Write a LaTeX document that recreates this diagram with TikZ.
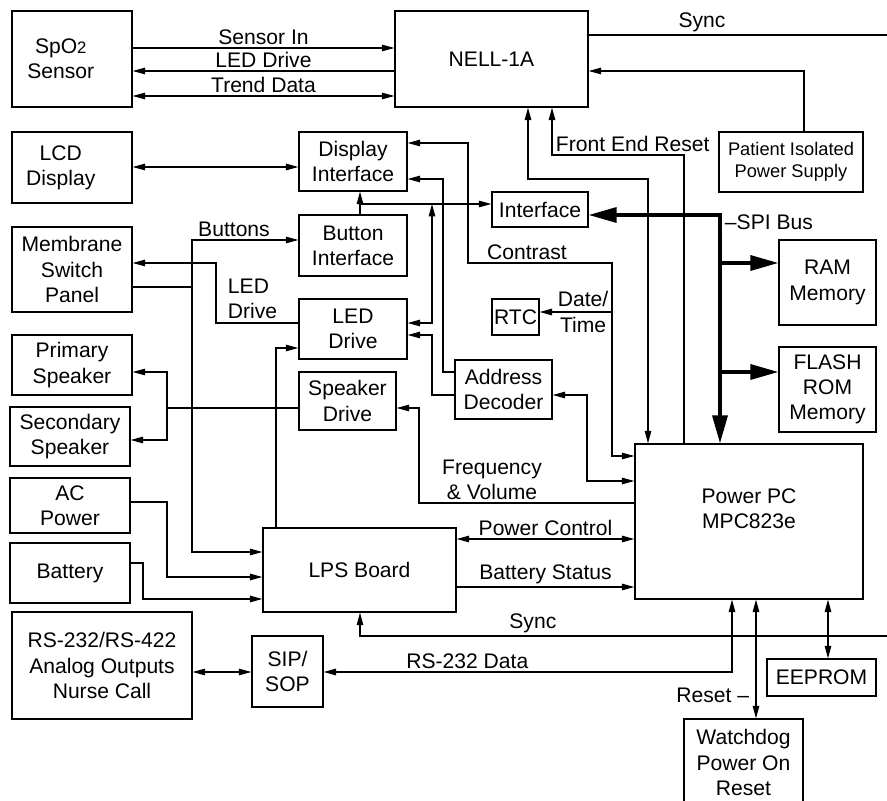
\documentclass[tikz,border=0pt]{standalone}
\usepackage{fontspec}
\setmainfont{Liberation Sans}
\usetikzlibrary{arrows.meta}
\newcommand{\smallfs}{\fontsize{10.4}{12.4}\selectfont}

\begin{document}
\begin{tikzpicture}[x=0.2mm, y=-0.2mm, font=\fontsize{12}{14.3}\selectfont,
    blk/.style={draw, line width=0.7pt, align=center, inner sep=0pt},
    wire/.style={line width=0.7pt},
    arr/.style={wire, -{Triangle[length=2.5mm, width=1.3mm]}},
    dbl/.style={wire, {Triangle[length=2.5mm, width=1.3mm]}-{Triangle[length=2.5mm, width=1.3mm]}},
    bus/.style={line width=1.9pt},
    busarr/.style={bus, -{Triangle[length=5.6mm, width=3mm]}},
    busdbl/.style={bus, {Triangle[length=5.6mm, width=3mm]}-{Triangle[length=5.6mm, width=3mm]}},
    lbl/.style={inner sep=1.5pt}]
  \clip (0,0) rectangle (887,801);
  % left column
  \node[blk, minimum width=24mm, minimum height=19.2mm] (spo2) at (72,59) {SpO{\fontsize{9.5}{9.5}\selectfont 2}\hspace*{4.5mm}\\Sensor\hspace*{4.5mm}};
  \node[blk, minimum width=24mm, minimum height=14.2mm] (lcd) at (72,167.5) {LCD\hspace*{4.5mm}\\Display\hspace*{4.5mm}};
  \node[blk, minimum width=24mm, minimum height=17mm] (membrane) at (72,269.5) {Membrane\\Switch\\Panel};
  \node[blk, minimum width=24mm, minimum height=12mm] (primary) at (72,365) {Primary\\Speaker};
  \node[blk, minimum width=24mm, minimum height=11.8mm] (secondary) at (70,436.5) {Secondary\\Speaker};
  \node[blk, minimum width=24mm, minimum height=11mm] (acpower) at (70,505.5) {AC\\Power};
  \node[blk, minimum width=24mm, minimum height=12mm] (battery) at (70,573) {Battery};
  \node[blk, minimum width=36mm, minimum height=21.4mm] (rs) at (102,665.5) {RS-232/RS-422\\Analog Outputs\\Nurse Call};
  % middle
  \node[blk, minimum width=38.6mm, minimum height=19.2mm] (nell) at (491.5,59) {NELL-1A};
  \node[blk, minimum width=21.6mm, minimum height=11.8mm] (dispif) at (353,161.5) {Display\\Interface};
  \node[blk, minimum width=21.6mm, minimum height=12.2mm] (btnif) at (353,245.5) {Button\\Interface};
  \node[blk, minimum width=21.6mm, minimum height=12mm] (leddrv) at (353,329) {LED\\Drive};
  \node[blk, minimum width=19.4mm, minimum height=11.6mm] (spkdrv) at (347.5,401) {Speaker\\Drive};
  \node[blk, minimum width=38.6mm, minimum height=16.8mm] (lps) at (359.5,570) {LPS Board};
  \node[blk, minimum width=14.2mm, minimum height=14.2mm] (sip) at (287.5,671.5) {SIP/\\SOP};
  \node[blk, minimum width=19.2mm, minimum height=7mm] (iface) at (540,209.5) {Interface};
  \node[blk, minimum width=9.4mm, minimum height=7.2mm] (rtc) at (515.5,317) {RTC};
  \node[blk, minimum width=19.4mm, minimum height=11.8mm] (addr) at (503.5,389.5) {Address\\Decoder};
  % right
  \node[blk, minimum width=28.8mm, minimum height=12mm, font=\smallfs] (pips) at (791,162) {Patient Isolated\\Power Supply};
  \node[blk, minimum width=19.4mm, minimum height=17mm] (ram) at (827.5,282.5) {RAM\\Memory};
  \node[blk, minimum width=19.4mm, minimum height=17mm] (flash) at (827.5,389.5) {FLASH\\ROM\\Memory};
  \node[blk, minimum width=45.6mm, minimum height=31mm, label={[align=center, yshift=2.6mm]center:Power PC\\MPC823e}] (ppc) at (749,521.5) {};
  \node[blk, minimum width=21.8mm, minimum height=7.4mm] (eeprom) at (821.5,677.5) {EEPROM};
  \node[blk, minimum width=23.8mm, minimum height=17.4mm] (watchdog) at (743.5,762.5) {Watchdog\\Power On\\Reset};

  \coordinate (synctop) at (887,35);
  \coordinate (syncbot) at (887,636);
  \coordinate (btnj) at (360,204);
  \coordinate (busj) at (432,204);
  \coordinate (memj) at (192,287);
  \coordinate (spkj) at (167,408);
  \coordinate (dtj) at (612,312);
  \coordinate (ramj) at (720,263);
  \coordinate (flashj) at (720,372);

  % sensor and front end
  \draw[arr] (spo2.east |- 0,48) -- node[above, lbl] (lsensor) {Sensor In} (nell.west |- 0,48);
  \draw[arr] (nell.west |- 0,71) -- node[above, lbl] (lleddrive) {LED Drive} (spo2.east |- 0,71);
  \draw[dbl] (spo2.east |- 0,96) -- node[above, lbl] (ltrend) {Trend Data} (nell.west |- 0,96);
  \draw[wire] (nell.east |- synctop) -- node[pos=0.38, above, lbl] (lsynctop) {Sync} (synctop);
  \draw[arr] (pips.north -| 804,0) |- (nell.east |- 0,71);
  \draw[dbl] (nell.south -| 528,0) |- (648,179) -- (ppc.north -| 648,0);
  \draw[arr] (ppc.north -| 684,0) |- (552,155) -- (nell.south -| 552,0);
  \node[anchor=south west, lbl] (lfer) at (553,155) {Front End Reset};

  % display, buttons, leds
  \draw[dbl] (lcd.east |- 0,167) -- (dispif.west |- 0,167);
  \draw[dbl] (ppc.west |- 0,456) -| (612,263) -| (468,143) -- (dispif.east |- 0,143);
  \node[above, lbl] (lcontrast) at (527,263) {Contrast};
  \draw[arr] (dtj) -- node[pos=0.4, lbl, align=center] (ldate) {Date/\\Time} (rtc.east |- dtj);
  \draw[arr] (btnif.north -| btnj) -- (dispif.south -| btnj);
  \draw[arr] (btnj) -- (iface.west |- btnj);
  \draw[dbl] (leddrv.east |- 0,323) -| (busj);
  \draw[arr] (addr.west |- 0,395) -| (432,335) -- (leddrv.east |- 0,335);
  \draw[arr] (addr.west |- 0,372) -| (443,179) -- (dispif.east |- 0,179);
  \draw[dbl] (addr.east |- 0,395) -| (587,481) -- (ppc.west |- 0,481);
  \draw[dbl] (btnif.west |- 0,240) -| (192,552) -- (lps.west |- 0,552);
  \node[above, lbl] (lbuttons) at (234,240) {Buttons};
  \draw[wire] (membrane.east |- memj) -- (memj);
  \draw[arr] (leddrv.west |- 0,323) -| (216,263) -- (membrane.east |- 0,263);
  \node[anchor=south west, lbl, align=left] (lled) at (225,322) {LED\\Drive};
  \draw[arr] (lps.north -| 276,0) |- (leddrv.west |- 0,348);

  % speakers
  \draw[arr] (ppc.west |- 0,503) -| (419,408) -- (spkdrv.east |- 0,408);
  \node[anchor=south, lbl, align=center] (lfreq) at (492,503) {Frequency\\\& Volume};
  \draw[arr] (spkdrv.west |- spkj) -- (spkj) |- (primary.east |- 0,372);
  \draw[arr] (spkj) |- (secondary.east |- 0,440);

  % power
  \draw[arr] (acpower.east |- 0,502) -| (167,577) -- (lps.west |- 0,577);
  \draw[arr] (battery.east |- 0,563) -| (143,599) -- (lps.west |- 0,599);
  \draw[dbl] (lps.east |- 0,539) -- node[above, lbl] (lpwr) {Power Control} (ppc.west |- 0,539);
  \draw[arr] (lps.east |- 0,587) -- node[above, lbl] (lbatt) {Battery Status} (ppc.west |- 0,587);
  \draw[arr] (syncbot) -| node[pos=0.336, above, lbl] (lsyncbot) {Sync} (lps.south -| 360,0);

  % serial, reset, eeprom
  \draw[dbl] (rs.east |- 0,672) -- (sip.west |- 0,672);
  \draw[dbl] (sip.east |- 0,672) -| node[pos=0.176, above, lbl] (lrs) {RS-232 Data} (ppc.south -| 732,0);
  \draw[dbl] (ppc.south -| 756,0) -- (watchdog.north -| 756,0);
  \node[anchor=east, lbl] (lreset) at (752,695) {Reset –};
  \draw[dbl] (ppc.south -| 828,0) -- (eeprom.north -| 828,0);

  % spi bus
  \draw[busdbl] (iface.east |- 0,215) -| (ppc.north -| 720,0);
  \draw[busarr] (ramj) -- (ram.west |- ramj);
  \draw[busarr] (flashj) -- (flash.west |- flashj);
  \node[anchor=west, lbl] (lspi) at (722,222) {–SPI Bus};
\end{tikzpicture}
\end{document}
